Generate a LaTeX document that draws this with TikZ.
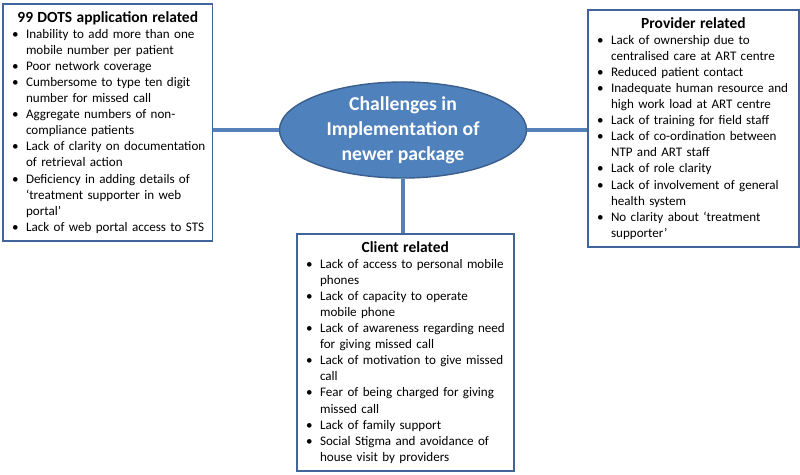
\documentclass[tikz,border=0pt]{standalone}
\usepackage{fontspec}
\setmainfont{Carlito}
\usetikzlibrary{shapes.geometric}

\definecolor{boxblue}{HTML}{41659A}
\definecolor{linkblue}{HTML}{5581BA}
\definecolor{hubfill}{HTML}{4F81BD}
\definecolor{hubline}{HTML}{3B5E8C}

\newcommand{\itm}[1]{\par\hangindent=12.4pt\hangafter=1\noindent\makebox[12.4pt][l]{\hspace*{2.5pt}\textbullet}#1}
\newcommand{\boxtitle}[1]{{\centering\bfseries\fontsize{11}{13.5}\selectfont #1\par}}

\begin{document}
\begin{tikzpicture}[x=0.025cm,y=-0.025cm,
  group/.style={draw=boxblue, line width=1.4pt, fill=white, anchor=north west,
    inner xsep=4pt, inner ysep=2pt, minimum height=168.6pt, align=left,
    font=\fontsize{9.3}{11.4}\selectfont},
  link/.style={draw=linkblue, line width=2.8pt},
  hub/.style={ellipse, draw=hubline, line width=1pt, fill=hubfill, text=white,
    inner sep=0pt, minimum width=6.175cm, minimum height=2.4cm, align=center,
    font=\bfseries\fontsize{14}{17.8}\selectfont}]

\useasboundingbox (0,0) rectangle (800,474);

% centre
\node[hub] (hub) at (403,130) {Challenges in\\Implementation of\\newer package};

% the three groups
\node[group, text width=141pt] (dots) at (2,3) {\boxtitle{99 DOTS application related}
  \itm{Inability to add more than one\newline mobile  number per patient}
  \itm{Poor network coverage}
  \itm{Cumbersome to type ten digit\newline number  for missed call}
  \itm{Aggregate numbers of non-\newline compliance patients}
  \itm{Lack of clarity on documentation\newline of retrieval action}
  \itm{Deficiency in adding details of\newline ‘treatment supporter in web\newline portal’}
  \itm{Lack of web portal access to STS}\par};

\node[group, text width=142pt] (prov) at (587,9) {\boxtitle{Provider related}
  \itm{Lack of ownership due to\newline centralised care at ART centre}
  \itm{Reduced patient contact}
  \itm{Inadequate human  resource and\newline high work  load at ART centre}
  \itm{Lack of training for field staff}
  \itm{Lack of co-ordination  between\newline NTP and ART staff}
  \itm{Lack of role clarity}
  \itm{Lack of involvement of general\newline health system}
  \itm{No clarity about ‘treatment\newline supporter’}\par};

\node[group, text width=146pt] (client) at (296,233) {\boxtitle{Client related}
  \itm{Lack of access to personal mobile\newline phones}
  \itm{Lack of capacity to operate\newline mobile phone}
  \itm{Lack of awareness regarding need\newline for giving missed call}
  \itm{Lack of motivation to give missed\newline call}
  \itm{Fear of being charged for giving\newline missed call}
  \itm{Lack of family support}
  \itm{Social Stigma  and avoidance of\newline house visit by providers}\par};

% connectors
\draw[link] (hub.west) -- (hub.west -| dots.east);
\draw[link] (hub.east) -- (hub.east -| prov.west);
\draw[link] (hub.south) -- (hub.south |- client.north);

\end{tikzpicture}
\end{document}
